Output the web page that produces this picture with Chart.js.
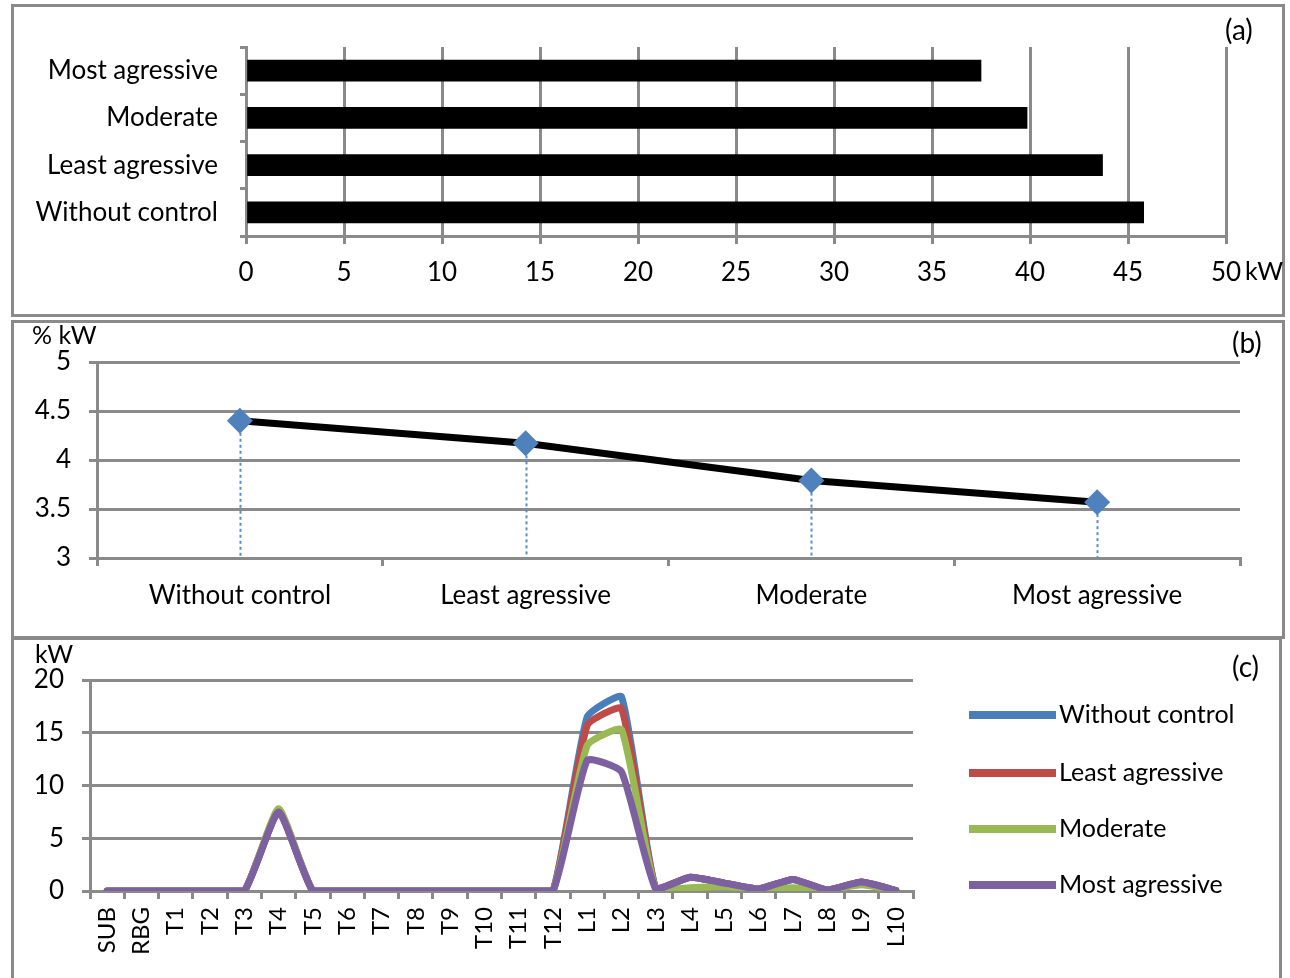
<!DOCTYPE html>
<html><head><meta charset="utf-8">
<script src="https://cdn.jsdelivr.net/npm/chart.js@4.4.1/dist/chart.umd.min.js"></script>
<style>
body{margin:0;background:#fff;width:1290px;height:978px;overflow:hidden;position:relative;font-family:Lato,sans-serif;}
.panel{position:absolute;border:3px solid #8a8a8a;box-sizing:border-box;}
canvas{position:absolute;left:0;}
.t{position:absolute;font-size:25px;color:#000;line-height:1;white-space:nowrap;}
</style></head><body>
<div class="panel" style="left:11px;top:4px;width:1274px;height:313px"></div>
<div class="panel" style="left:11px;top:320px;width:1274px;height:319px"></div>
<div class="panel" style="left:11px;top:637px;width:1271px;height:360px"></div>
<canvas id="ca" width="1290" height="318" style="top:0"></canvas>
<canvas id="cb" width="1290" height="320" style="top:318px"></canvas>
<canvas id="cc" width="1290" height="340" style="top:638px"></canvas>
<div class="t" style="left:1225px;top:15px;font-size:28px">(a)</div>
<div class="t" style="left:1245px;top:258px">kW</div>
<div class="t" style="left:32px;top:322px">% kW</div>
<div class="t" style="left:1232px;top:328px;font-size:28px">(b)</div>
<div class="t" style="left:35px;top:641px">kW</div>
<div class="t" style="left:1232px;top:652px;font-size:28px">(c)</div>
<script>
// ---- data ----
const strategies = ['Without control', 'Least agressive', 'Moderate', 'Most agressive'];
const peakDemandKW = [45.8, 43.7, 39.85, 37.5];
const lossesPct = [4.40, 4.17, 3.79, 3.57];
const lossTicks = ['3', '3.5', '4', '4.5', '5'];
const nodes = ['SUB','RBG','T1','T2','T3','T4','T5','T6','T7','T8','T9','T10','T11','T12',
               'L1','L2','L3','L4','L5','L6','L7','L8','L9','L10'];
const loadWithout  = [0,0,0,0,0,7.6,0,0,0,0,0,0,0,0,16.5,18.4,0.2,1.3,0.75,0.2,1.1,0.1,0.85,0.05];
const loadLeast    = [0,0,0,0,0,7.6,0,0,0,0,0,0,0,0,15.7,17.3,0.2,1.3,0.75,0.2,1.1,0.1,0.85,0.05];
const loadModerate = [0,0,0,0,0,7.8,0,0,0,0,0,0,0,0,13.8,15.3,0.1,0.3,0.4,0.2,0.3,0.1,0.6,0.05];
const loadMost     = [0,0,0,0,0,7.5,0,0,0,0,0,0,0,0,12.4,11.3,0.2,1.3,0.75,0.2,1.1,0.1,0.85,0.05];
const seriesColors = ['#4a7ebb','#be4b48','#98b954','#7d60a0'];

Chart.defaults.font.family = 'Lato, sans-serif';
Chart.defaults.font.size = 26;
Chart.defaults.color = '#000';
const GRID = '#8a8a8a';

// ---- (a) horizontal bars ----
new Chart(document.getElementById('ca'), {
  type: 'bar',
  data: { labels: strategies, datasets: [{ data: peakDemandKW, backgroundColor: '#000', barThickness: 21 }] },
  options: {
    responsive: false, animation: false, indexAxis: 'y',
    layout: { padding: { left: 0, top: 47, right: 64, bottom: 0 } },
    plugins: { legend: { display: false }, tooltip: { enabled: false } },
    scales: {
      x: { min: 0, max: 50, ticks: { stepSize: 5, padding: 13 },
           grid: { color: GRID, lineWidth: 3, tickLength: 8 },
           border: { color: GRID, width: 3 },
           afterFit: s => { s.height = 82; } },
      y: { reverse: true,
           grid: { drawOnChartArea: false, color: GRID, lineWidth: 3, tickLength: 6, offset: true },
           border: { color: GRID, width: 3 },
           ticks: { padding: 22 },
           afterFit: s => { s.width = 246; } }
    }
  }
});

// ---- (b) losses ----
const dropLines = {
  id: 'dropLines',
  beforeDatasetsDraw(chart) {
    const ctx = chart.ctx, meta = chart.getDatasetMeta(0), bottom = chart.chartArea.bottom;
    ctx.save();
    ctx.strokeStyle = '#5b8ccb'; ctx.lineWidth = 2; ctx.setLineDash([3, 3]);
    meta.data.forEach(p => { ctx.beginPath(); ctx.moveTo(Math.round(p.x)+0.5, p.y); ctx.lineTo(Math.round(p.x)+0.5, bottom); ctx.stroke(); });
    ctx.restore();
  }
};
new Chart(document.getElementById('cb'), {
  type: 'line',
  data: { labels: strategies, datasets: [{ data: lossesPct, borderColor: '#000', borderWidth: 7, tension: 0,
    pointStyle: 'rectRot', pointRadius: 13, pointBackgroundColor: '#4f81bd', pointBorderColor: '#4f81bd', pointBorderWidth: 0 }] },
  options: {
    responsive: false, animation: false,
    layout: { padding: { left: 0, top: 44, right: 50, bottom: 0 } },
    plugins: { legend: { display: false }, tooltip: { enabled: false } },
    scales: {
      x: { offset: true,
           grid: { drawOnChartArea: false, offset: true, color: GRID, lineWidth: 3, tickLength: 8 },
           border: { color: GRID, width: 3 },
           ticks: { padding: 14 },
           afterFit: s => { s.height = 80; } },
      y: { min: 3, max: 5,
           ticks: { stepSize: 0.5, padding: 18, callback: (v, i) => lossTicks[i] },
           grid: { color: GRID, lineWidth: 3, tickLength: 8 },
           border: { color: GRID, width: 3 },
           afterFit: s => { s.width = 97; } }
    }
  },
  plugins: [dropLines]
});

// ---- (c) node loads ----
const sideLegend = {
  id: 'sideLegend',
  afterDraw(chart) {
    const ctx = chart.ctx;
    const ys = [77, 135, 191, 247];
    ctx.save();
    chart.data.datasets.forEach((ds, i) => {
      ctx.strokeStyle = ds.borderColor; ctx.lineWidth = 8; ctx.lineCap = 'butt';
      ctx.beginPath(); ctx.moveTo(969, ys[i]); ctx.lineTo(1056, ys[i]); ctx.stroke();
      ctx.fillStyle = '#000'; ctx.font = '25px Lato, sans-serif'; ctx.textBaseline = 'middle';
      ctx.fillText(ds.label, 1059, ys[i]);
    });
    ctx.restore();
  }
};
const mk = (label, data, i) => ({ label, data, borderColor: seriesColors[i], backgroundColor: seriesColors[i],
  borderWidth: 7, pointRadius: 0, tension: 0.15,
  borderJoinStyle: 'round', borderCapStyle: 'round', order: 3 - i });
new Chart(document.getElementById('cc'), {
  type: 'line',
  data: { labels: nodes, datasets: [
    mk(strategies[0], loadWithout, 0), mk(strategies[1], loadLeast, 1),
    mk(strategies[2], loadModerate, 2), mk(strategies[3], loadMost, 3)] },
  options: {
    responsive: false, animation: false,
    layout: { padding: { left: 0, top: 42, right: 377, bottom: 0 } },
    plugins: { legend: { display: false }, tooltip: { enabled: false } },
    scales: {
      x: { offset: true,
           grid: { drawOnChartArea: false, offset: true, color: GRID, lineWidth: 3, tickLength: 8 },
           border: { color: GRID, width: 3 },
           ticks: { minRotation: 90, maxRotation: 90, autoSkip: false, padding: 8, font: { size: 24 } },
           afterFit: s => { s.height = 87; } },
      y: { min: 0, max: 20, ticks: { stepSize: 5, padding: 18 },
           grid: { color: GRID, lineWidth: 3, tickLength: 8 },
           border: { color: GRID, width: 3 },
           afterFit: s => { s.width = 90; } }
    }
  },
  plugins: [sideLegend]
});
</script>
</body></html>
